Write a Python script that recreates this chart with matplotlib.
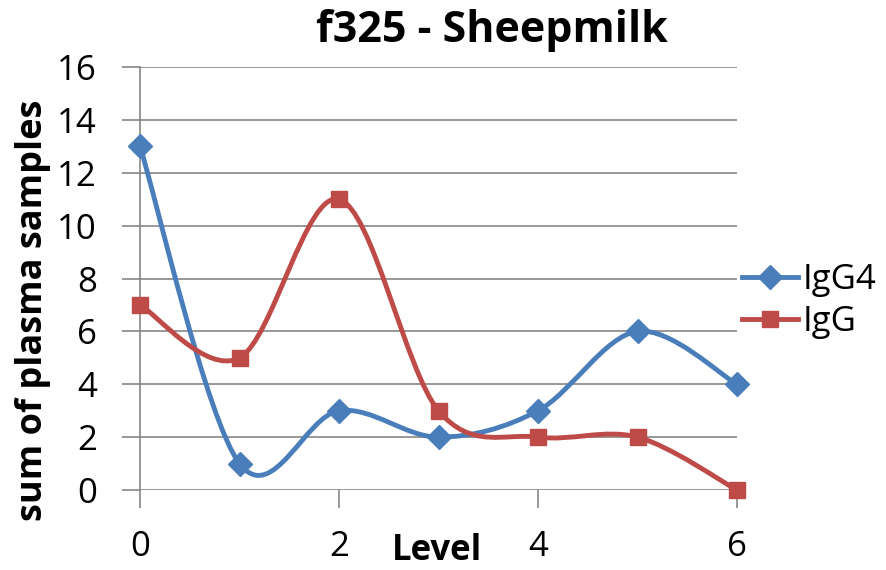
import numpy as np
import matplotlib
matplotlib.use("Agg")
import matplotlib.pyplot as plt
from matplotlib.path import Path
from matplotlib.patches import PathPatch
from matplotlib.lines import Line2D

plt.rcParams['font.family'] = ['Open Sans', 'DejaVu Sans']

levels = [0, 1, 2, 3, 4, 5, 6]
igg4 = [13, 1, 3, 2, 3, 6, 4]
igg = [7, 5, 11, 3, 2, 2, 0]
series_names = ["IgG4", "IgG"]
colors = ["#4A7EBB", "#BE4B48"]
markers = ["D", "s"]
yticks = [0, 2, 4, 6, 8, 10, 12, 14, 16]
xticks = [0, 2, 4, 6]


def smooth_path(x, y):
    pts = np.column_stack([x, y]).astype(float)
    n = len(pts)
    verts = [pts[0]]
    codes = [Path.MOVETO]
    for i in range(n - 1):
        p0 = pts[i - 1] if i > 0 else pts[i]
        p1 = pts[i]
        p2 = pts[i + 1]
        p3 = pts[i + 2] if i + 2 < n else pts[i + 1]
        c1 = p1 + (p2 - p0) / 6.0
        c2 = p2 - (p3 - p1) / 6.0
        verts += [c1, c2, p2]
        codes += [Path.CURVE4] * 3
    return Path(verts, codes)


fig = plt.figure(figsize=(8.86, 5.70), dpi=100)
ax = fig.add_axes([140 / 886, 1 - 490 / 570, (737 - 140) / 886, (490 - 67) / 570])

handles = []
for vals, name, c, m in zip([igg4, igg], series_names, colors, markers):
    patch = PathPatch(smooth_path(levels, vals), facecolor='none', edgecolor=c,
                      lw=3.5, capstyle='round', joinstyle='round', zorder=3)
    ax.add_patch(patch)
    ms = 12 if m == 'D' else 11.5
    ax.plot(levels, vals, linestyle='none', marker=m, color=c, markersize=ms,
            zorder=4, clip_on=False)
    handles.append(Line2D([], [], color=c, lw=3.5, marker=m, markersize=ms))

ax.set_xlim(0, 6)
ax.set_ylim(0, 16)
ax.set_xticks(xticks)
ax.set_yticks(yticks)
ax.grid(axis='y', color='#868686', lw=1.2)
ax.set_axisbelow(True)
for s in ['top', 'right', 'bottom']:
    ax.spines[s].set_visible(False)
ax.spines['left'].set_color('#868686')
ax.spines['left'].set_linewidth(1.2)
ax.tick_params(axis='y', length=13, width=1.2, color='#868686', labelsize=25, pad=18)
ax.tick_params(axis='x', length=13, width=1.2, color='#868686', labelsize=25, pad=16)

fig.text(492 / 886, 1 - 31 / 570, "f325 - Sheepmilk", ha='center', va='center',
         fontsize=31, fontweight='bold')
fig.text(33 / 886, 1 - 310 / 570, "sum of plasma samples", ha='center', va='center',
         rotation=90, fontsize=26, fontweight='bold')
fig.text(437 / 886, 1 - 551 / 570, "Level", ha='center', va='center',
         fontsize=25, fontweight='bold')

fig.legend(handles, series_names, loc='center left', bbox_to_anchor=(742 / 886, 1 - 301 / 570),
           frameon=False, fontsize=25, handlelength=1.6, handletextpad=0.15,
           labelspacing=0.25, borderaxespad=0, borderpad=0)

fig.savefig("out.png", dpi=100)
